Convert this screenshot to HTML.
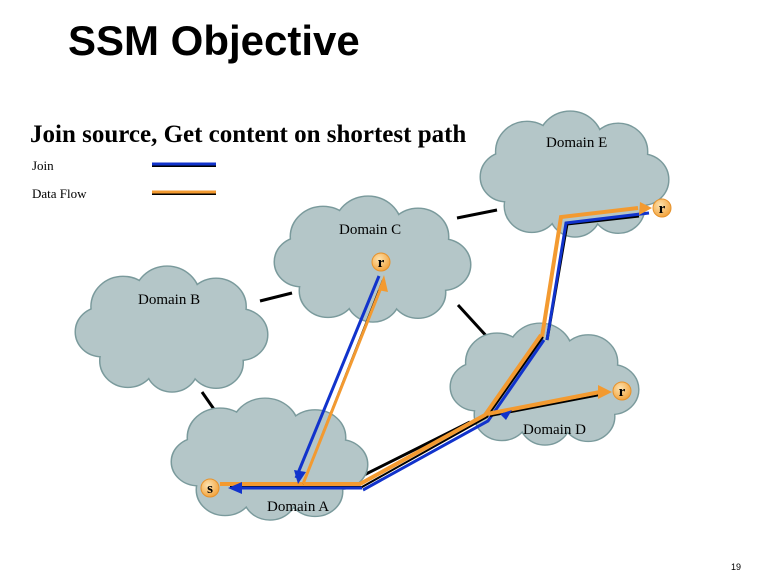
<!DOCTYPE html>
<html><head><meta charset="utf-8"><style>
body{margin:0;width:768px;height:576px;background:#fff;overflow:hidden}
</style></head><body>
<svg width="768" height="576" viewBox="0 0 768 576" xmlns="http://www.w3.org/2000/svg">
<defs>
<radialGradient id="g" cx="40%" cy="35%" r="65%"><stop offset="0" stop-color="#fde3b0"/><stop offset="1" stop-color="#f3a540"/></radialGradient>
<g id="cloud">
<circle cx="-50" cy="-25" r="32"/><circle cx="-5" cy="-35" r="33"/><circle cx="45" cy="-25" r="30"/>
<circle cx="70" cy="5" r="27"/><circle cx="45" cy="35" r="27"/><circle cx="0" cy="40" r="26"/>
<circle cx="-45" cy="33" r="28"/><circle cx="-72" cy="2" r="26"/><ellipse cx="0" cy="0" rx="75" ry="40"/>
</g>
</defs>
<text x="68" y="55" font-family="Liberation Sans, sans-serif" font-weight="bold" font-size="42">SSM Objective</text>
<text x="30" y="142" font-family="Liberation Serif, serif" font-weight="bold" font-size="25">Join source, Get content on shortest path</text>
<text x="32" y="170" font-family="Liberation Serif, serif" font-size="13">Join</text>
<text x="32" y="198" font-family="Liberation Serif, serif" font-size="13">Data Flow</text>
<line x1="152" y1="166" x2="216" y2="166" stroke="#000" stroke-width="2"/>
<line x1="152" y1="164" x2="216" y2="164" stroke="#1133cc" stroke-width="3"/>
<line x1="152" y1="194" x2="216" y2="194" stroke="#000" stroke-width="2"/>
<line x1="152" y1="192" x2="216" y2="192" stroke="#f39a30" stroke-width="3"/>
<g stroke="#000" stroke-width="3">
<line x1="457" y1="218" x2="497" y2="210"/><line x1="260" y1="301" x2="292" y2="293"/>
<line x1="458" y1="305" x2="490" y2="340"/><line x1="202" y1="392" x2="218" y2="415"/>
<line x1="362" y1="476" x2="470" y2="422"/>
</g>
<g fill="#b4c6c8" stroke="#7a9a9c" stroke-width="3">
<use href="#cloud" transform="translate(575,175) scale(0.96,0.93)"/>
<use href="#cloud" transform="translate(373,260) scale(1.0,0.93)"/>
<use href="#cloud" transform="translate(172,330) scale(0.98,0.93)"/>
<use href="#cloud" transform="translate(545,385) scale(0.96,0.9)"/>
<use href="#cloud" transform="translate(270,460) scale(1.0,0.9)"/>
</g>
<g fill="#b4c6c8">
<use href="#cloud" transform="translate(575,175) scale(0.96,0.93)"/>
<use href="#cloud" transform="translate(373,260) scale(1.0,0.93)"/>
<use href="#cloud" transform="translate(172,330) scale(0.98,0.93)"/>
<use href="#cloud" transform="translate(545,385) scale(0.96,0.9)"/>
<use href="#cloud" transform="translate(270,460) scale(1.0,0.9)"/>
</g>
<g font-family="Liberation Serif, serif" font-size="15">
<text x="546" y="147">Domain E</text><text x="339" y="234">Domain C</text>
<text x="138" y="304">Domain B</text><text x="523" y="434">Domain D</text>
<text x="267" y="511">Domain A</text>
</g>
<g fill="none" stroke-linejoin="miter">
<polyline points="548,338 568,222 640,214" stroke="#000" stroke-width="3" transform="translate(-1,2)"/>
<polyline points="544,338 563,218 640,209" stroke="#f39a30" stroke-width="4" transform="translate(-2,-1)"/>
<polyline points="546,338 565,221 648,211" stroke="#1133cc" stroke-width="3" transform="translate(1,2)"/>
<polyline points="362,488 487,419 543,338" stroke="#1133cc" stroke-width="3" transform="translate(1,2)"/>
<polyline points="230,487 362,487 487,417 543,337" stroke="#000" stroke-width="2"/>
<polyline points="220,484 360,484 485,415 541,335" stroke="#f39a30" stroke-width="4"/>
<line x1="232" y1="488" x2="362" y2="488" stroke="#1133cc" stroke-width="3"/>
<line x1="490" y1="416" x2="605" y2="394" stroke="#000" stroke-width="2"/>
<line x1="487" y1="414" x2="600" y2="392" stroke="#f39a30" stroke-width="4"/>
<line x1="383" y1="276" x2="300" y2="478" stroke="#1133cc" stroke-width="3" transform="translate(-4,0)"/>
<line x1="383" y1="280" x2="303" y2="484" stroke="#000" stroke-width="2"/>
<line x1="381" y1="280" x2="300" y2="484" stroke="#f39a30" stroke-width="3" transform="translate(3,0)"/>
</g>
<g>
<polygon points="640,202 652,208 639,215" fill="#f39a30"/>
<polygon points="598,385 612,392 598,399" fill="#f39a30"/>
<polygon points="378,290 384,275 388,292" fill="#f39a30"/>
<polygon points="294,470 298,484 306,472" fill="#1133cc"/>
<polygon points="242,482 228,488 242,494" fill="#1133cc"/>
<polygon points="500,414 512,410 506,420" fill="#1133cc"/>
</g>
<g stroke="#e6922c" stroke-width="1" fill="url(#g)">
<circle cx="381" cy="262" r="9"/><circle cx="662" cy="208" r="9"/>
<circle cx="622" cy="391" r="9"/><circle cx="210" cy="488" r="9"/>
</g>
<g font-family="Liberation Serif, serif" font-weight="bold" font-size="15" text-anchor="middle">
<text x="381" y="267">r</text><text x="662" y="213">r</text><text x="622" y="396">r</text><text x="210" y="493">s</text>
</g>
<text x="731" y="570" font-family="Liberation Sans, sans-serif" font-size="9">19</text>
</svg>
</body></html>
